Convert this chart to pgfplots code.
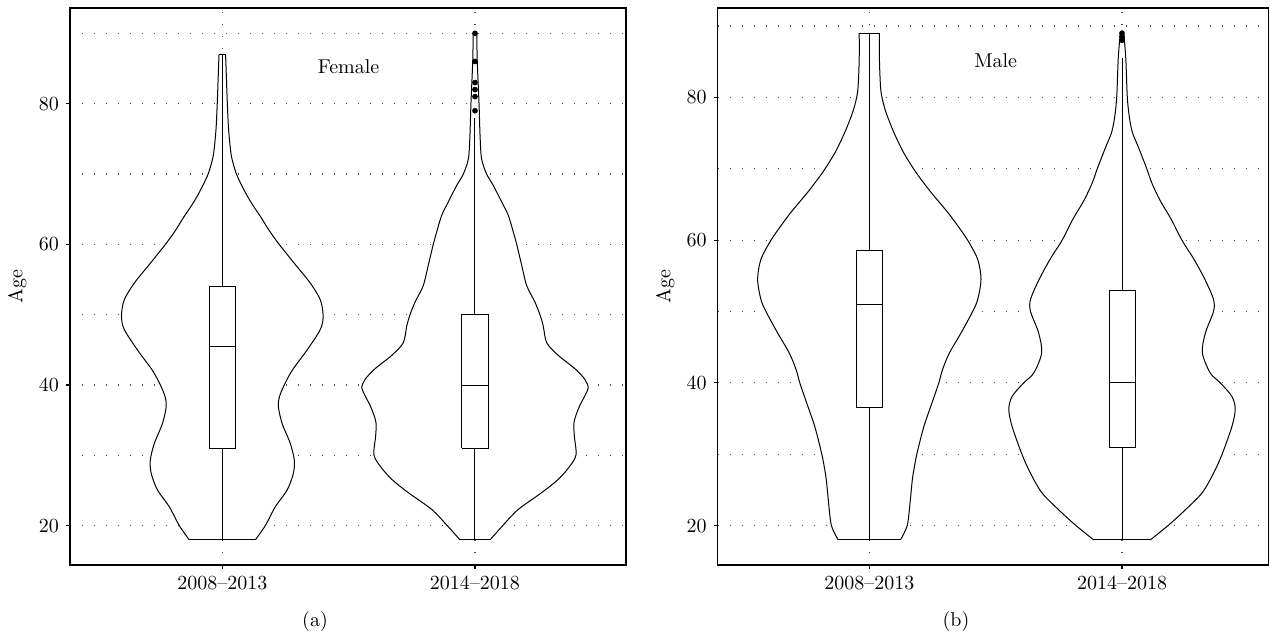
\documentclass[border=0pt]{standalone}
\usepackage{pgfplots}
\pgfplotsset{compat=1.18}
\usepackage{pgfplotstable}

% violin outlines: age, half-width w (axis units), side s (-1 left, +1 right)
\pgfplotstableread{
age w s
18 0.131 -1
20 0.170 -1
22.7 0.210 -1
25.1 0.257 -1
27.4 0.281 -1
29.3 0.285 -1
31.7 0.269 -1
34.5 0.237 -1
36.9 0.222 -1
38.3 0.226 -1
40 0.245 -1
42.1 0.277 -1
45 0.336 -1
47.9 0.388 -1
49.8 0.399 -1
52.1 0.388 -1
54.5 0.348 -1
57.3 0.285 -1
60 0.225 -1
62 0.185 -1
63.9 0.152 -1
65.5 0.122 -1
66.8 0.100 -1
68.5 0.075 -1
70 0.056 -1
71.5 0.043 -1
73 0.034 -1
76.3 0.025 -1
80 0.020 -1
84 0.016 -1
87 0.013 -1
87 0.013 1
84 0.016 1
80 0.020 1
76.3 0.025 1
73 0.034 1
71.5 0.043 1
70 0.056 1
68.5 0.075 1
66.8 0.100 1
65.5 0.122 1
63.9 0.152 1
62 0.185 1
60 0.225 1
57.3 0.285 1
54.5 0.348 1
52.1 0.388 1
49.8 0.399 1
47.9 0.388 1
45 0.336 1
42.1 0.277 1
40 0.245 1
38.3 0.226 1
36.9 0.222 1
34.5 0.237 1
31.7 0.269 1
29.3 0.285 1
27.4 0.281 1
25.1 0.257 1
22.7 0.210 1
20 0.170 1
18 0.131 1
}\vAa

\pgfplotstableread{
age w s
18 0.060 -1
20.1 0.112 -1
22.3 0.171 -1
24.7 0.264 -1
26.6 0.330 -1
28.5 0.376 -1
30.1 0.400 -1
32.8 0.393 -1
34.7 0.392 -1
36.6 0.409 -1
38.5 0.435 -1
39.6 0.448 -1
40.8 0.435 -1
42.3 0.396 -1
44.2 0.330 -1
46 0.284 -1
48.4 0.270 -1
50 0.257 -1
51.8 0.237 -1
54.1 0.205 -1
57 0.185 -1
60 0.165 -1
61.7 0.152 -1
64.1 0.132 -1
66 0.106 -1
68.4 0.072 -1
70 0.046 -1
72.2 0.026 -1
75.5 0.020 -1
80 0.016 -1
86 0.009 -1
90 0.007 -1
90 0.007 1
86 0.009 1
80 0.016 1
75.5 0.020 1
72.2 0.026 1
70 0.046 1
68.4 0.072 1
66 0.106 1
64.1 0.132 1
61.7 0.152 1
60 0.165 1
57 0.185 1
54.1 0.205 1
51.8 0.237 1
50 0.257 1
48.4 0.270 1
46 0.284 1
44.2 0.330 1
42.3 0.396 1
40.8 0.435 1
39.6 0.448 1
38.5 0.435 1
36.6 0.409 1
34.7 0.392 1
32.8 0.393 1
30.1 0.400 1
28.5 0.376 1
26.6 0.330 1
24.7 0.264 1
22.3 0.171 1
20.1 0.112 1
18 0.060 1
}\vAb

\pgfplotstableread{
age w s
18 0.123 -1
18.9 0.137 -1
20 0.150 -1
21.7 0.157 -1
24.6 0.165 -1
26.9 0.172 -1
30 0.188 -1
33.9 0.216 -1
37.2 0.248 -1
40 0.275 -1
41.9 0.290 -1
44.2 0.317 -1
47 0.363 -1
50 0.409 -1
51.7 0.429 -1
54.5 0.442 -1
57.3 0.429 -1
60 0.389 -1
62 0.350 -1
63.9 0.310 -1
66.7 0.244 -1
68.5 0.205 -1
70 0.175 -1
72.3 0.135 -1
75.1 0.097 -1
77.9 0.066 -1
80 0.050 -1
81.7 0.044 -1
85.4 0.040 -1
89 0.040 -1
89 0.040 1
85.4 0.040 1
81.7 0.044 1
80 0.050 1
77.9 0.066 1
75.1 0.097 1
72.3 0.135 1
70 0.175 1
68.5 0.205 1
66.7 0.244 1
63.9 0.310 1
62 0.350 1
60 0.389 1
57.3 0.429 1
54.5 0.442 1
51.7 0.429 1
50 0.409 1
47 0.363 1
44.2 0.317 1
41.9 0.290 1
40 0.275 1
37.2 0.248 1
33.9 0.216 1
30 0.188 1
26.9 0.172 1
24.6 0.165 1
21.7 0.157 1
20 0.150 1
18.9 0.137 1
18 0.123 1
}\vBa

\pgfplotstableread{
age w s
18 0.112 -1
20.1 0.185 -1
22.2 0.250 -1
24.6 0.317 -1
27.4 0.363 -1
30 0.396 -1
33.9 0.435 -1
36.3 0.448 -1
38.1 0.435 -1
40 0.389 -1
41.4 0.349 -1
44.2 0.318 -1
47 0.330 -1
50 0.362 -1
51.7 0.362 -1
54.5 0.328 -1
57.3 0.285 -1
60 0.237 -1
62.9 0.195 -1
65.6 0.150 -1
68 0.118 -1
70 0.098 -1
73 0.065 -1
75 0.042 -1
77 0.030 -1
80 0.021 -1
85.4 0.015 -1
89 0.007 -1
89 0.007 1
85.4 0.015 1
80 0.021 1
77 0.030 1
75 0.042 1
73 0.065 1
70 0.098 1
68 0.118 1
65.6 0.150 1
62.9 0.195 1
60 0.237 1
57.3 0.285 1
54.5 0.328 1
51.7 0.362 1
50 0.362 1
47 0.330 1
44.2 0.318 1
41.4 0.349 1
40 0.389 1
38.1 0.435 1
36.3 0.448 1
33.9 0.435 1
30 0.396 1
27.4 0.363 1
24.6 0.317 1
22.2 0.250 1
20.1 0.185 1
18 0.112 1
}\vBb

\pgfplotsset{
  common/.style={
    scale only axis,
    height=278.5pt,
    anchor=south west,
    unbounded coords=jump,
    ytick={20,40,60,80},
    minor ytick={30,50,70,90},
    xtick={0,1},
    xticklabels={2008--2013,2014--2018},
    tick align=outside,
    tick pos=left,
    major tick length=2pt,
    minor tick length=0pt,
    ymajorgrids, yminorgrids, xmajorgrids,
    major grid style={black!70, line width=0.6pt, dash pattern=on 0.6pt off 5.4pt},
    minor grid style={black!70, line width=0.6pt, dash pattern=on 0.6pt off 5.4pt},
    axis line style={line width=0.6pt},
    every tick/.style={black, line width=0.6pt},
    ylabel={Age},
    every axis y label/.style={at={(axis description cs:-0.095,0.5)}, rotate=90, anchor=center},
  },
  vfill/.style={fill=white, draw=none, smooth, tension=0.5},
  vline/.style={draw=black, line width=0.5pt, smooth, tension=0.5},
  vleft/.style={vline, restrict expr to domain={\thisrow{s}}{-2:0}},
  vright/.style={vline, restrict expr to domain={\thisrow{s}}{0:2}},
  bx/.style={black, line width=0.5pt, line join=miter},
}

\begin{document}
\begin{tikzpicture}

% ---------------- (a) Female ----------------
\begin{axis}[common, at={(35pt,36pt)}, width=278pt,
  xmin=-0.6027, xmax=1.5976, ymin=14.41, ymax=93.6]
  % violin 2008-2013
  \addplot[vfill]  table[x expr={0+\thisrow{s}*\thisrow{w}}, y=age] {\vAa};
  \addplot[vleft]  table[x expr={0+\thisrow{s}*\thisrow{w}}, y=age] {\vAa};
  \addplot[vright] table[x expr={0+\thisrow{s}*\thisrow{w}}, y=age] {\vAa};
  % violin 2014-2018
  \addplot[vfill]  table[x expr={1+\thisrow{s}*\thisrow{w}}, y=age] {\vAb};
  \addplot[vleft]  table[x expr={1+\thisrow{s}*\thisrow{w}}, y=age] {\vAb};
  \addplot[vright] table[x expr={1+\thisrow{s}*\thisrow{w}}, y=age] {\vAb};
  % flat ends of the violins
  \addplot[bx] coordinates {(-0.131,18) (0.131,18) (0,nan) (-0.013,87) (0.013,87) (0,nan)
     (0.940,18) (1.060,18) (0,nan) (0.993,90) (1.007,90)};
  % box, median and whiskers, 2008-2013
  \addplot[bx] coordinates {(0,18) (0,31) (0,nan)
     (-0.0515,31) (0.0515,31) (0.0515,54) (-0.0515,54) (-0.0515,31) (0,nan)
     (-0.0515,45.5) (0.0515,45.5) (0,nan) (0,54) (0,87)};
  % box, median and whiskers, 2014-2018
  \addplot[bx] coordinates {(1,18) (1,31) (1,nan)
     (0.9485,31) (1.0515,31) (1.0515,50) (0.9485,50) (0.9485,31) (1,nan)
     (0.9485,40) (1.0515,40) (1,nan) (1,50) (1,78)};
  \addplot[only marks, mark=*, mark size=1.2pt, black] coordinates {(1,90) (1,86) (1,83) (1,82) (1,81) (1,79)};
  \node at (axis cs:0.5,85.2) {Female};
\end{axis}

% ---------------- (b) Male ----------------
\begin{axis}[common, at={(358.85pt,36pt)}, width=275.5pt,
  xmin=-0.600, xmax=1.5805, ymin=14.49, ymax=92.52]
  \addplot[vfill]  table[x expr={0+\thisrow{s}*\thisrow{w}}, y=age] {\vBa};
  \addplot[vleft]  table[x expr={0+\thisrow{s}*\thisrow{w}}, y=age] {\vBa};
  \addplot[vright] table[x expr={0+\thisrow{s}*\thisrow{w}}, y=age] {\vBa};
  \addplot[vfill]  table[x expr={1+\thisrow{s}*\thisrow{w}}, y=age] {\vBb};
  \addplot[vleft]  table[x expr={1+\thisrow{s}*\thisrow{w}}, y=age] {\vBb};
  \addplot[vright] table[x expr={1+\thisrow{s}*\thisrow{w}}, y=age] {\vBb};
  \addplot[bx] coordinates {(-0.123,18) (0.123,18) (0,nan) (-0.040,89) (0.040,89) (0,nan)
     (0.888,18) (1.112,18) (0,nan) (0.993,89) (1.007,89)};
  \addplot[bx] coordinates {(0,18) (0,36.5) (0,nan)
     (-0.0515,36.5) (0.0515,36.5) (0.0515,58.5) (-0.0515,58.5) (-0.0515,36.5) (0,nan)
     (-0.0515,51) (0.0515,51) (0,nan) (0,58.5) (0,89)};
  \addplot[bx] coordinates {(1,18) (1,31) (1,nan)
     (0.9485,31) (1.0515,31) (1.0515,53) (0.9485,53) (0.9485,31) (1,nan)
     (0.9485,40) (1.0515,40) (1,nan) (1,53) (1,85.5)};
  \addplot[only marks, mark=*, mark size=1.2pt, black] coordinates {(1,89) (1,88.5) (1,88)};
  \node at (axis cs:0.5,85.2) {Male};
\end{axis}

\node at (157.5pt,7.65pt) {(a)};
\node at (478pt,7.65pt) {(b)};
\pgfresetboundingbox
\path[use as bounding box] (0,0) rectangle (635pt,318.5pt);
\end{tikzpicture}
\end{document}
